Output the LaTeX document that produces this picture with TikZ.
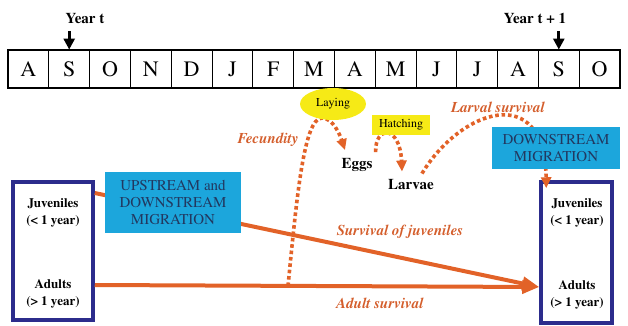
\documentclass[tikz,border=0pt]{standalone}
\usepackage[T1]{fontenc}
\usepackage{times}
\usetikzlibrary{arrows.meta, shapes.geometric, positioning}

\definecolor{lineorange}{RGB}{226,98,40}
\definecolor{labelorange}{RGB}{212,94,44}
\definecolor{migblue}{RGB}{28,166,220}
\definecolor{migtext}{RGB}{34,56,96}
\definecolor{stageblue}{RGB}{44,44,140}
\definecolor{layyellow}{RGB}{246,234,22}

\newcommand{\fs}[1]{\rmfamily\fontsize{#1}{1.15\dimexpr #1pt\relax}\selectfont}

\begin{document}
\begin{tikzpicture}[x=1pt,y=-1pt,
    month/.style={draw,line width=0.9pt,minimum width=40.8pt,minimum height=38pt,font=\fs{22}},
    yearlbl/.style={font=\fs{15}\bfseries},
    yeararrow/.style={line width=3pt,-{Triangle[length=11pt,width=11pt]}},
    stage/.style={align=center,font=\fs{13}\bfseries,inner sep=0pt},
    stagebox/.style={draw=stageblue,line width=3.5pt},
    surv/.style={draw=lineorange,line width=4pt,-{Triangle[length=17pt,width=13pt]}},
    survlbl/.style={text=labelorange,font=\fs{15}\bfseries\itshape},
    dots/.style={draw=lineorange,line width=3.6pt,dash pattern=on 3.6pt off 2.8pt,
                 -{Triangle[length=11pt,width=10pt,fill=lineorange]}},
    migbox/.style={fill=migblue,text=migtext,align=center,font=\fs{15},inner sep=0pt},
    lifestage/.style={font=\fs{15}\bfseries,inner sep=0pt},
    event/.style={fill=layyellow,font=\fs{12},inner sep=0pt}]
    \useasboundingbox (0,0) rectangle (628,326);

    % calendar row
    \foreach \m [count=\i] in {A,S,O,N,D,J,F,M,A,M,J,J,A,S,O}
        \node[month] (m\i) at ({8+40.8*\i-20.4},69) {\m};
    \draw[line width=2pt] (m1.north west) rectangle (m15.south east);

    \node[yearlbl] (yt) at (85,18) {Year t};
    \node[yearlbl] (yt1) at (535,18) {Year t + 1};
    \coordinate (ytarr) at (m2.north |- 0,31);
    \coordinate (yt1arr) at (m14.north |- 0,31);
    \draw[yeararrow] (ytarr) -- (m2.north);
    \draw[yeararrow] (yt1arr) -- (m14.north);

    % stage boxes
    \node[stagebox,minimum width=80pt,minimum height=138pt] (boxL) at (53,251) {};
    \node[stagebox,minimum width=71pt,minimum height=141pt] (boxR) at (576.5,252.5) {};
    \node[stage] (juvL) at (53,213) {Juveniles\\[2pt](< 1 year)};
    \node[stage] (adL) at (53,294) {Adults\\[2pt](> 1 year)};
    \node[stage] (juvR) at (577,213) {Juveniles\\[2pt](< 1 year)};
    \node[stage] (adR) at (577,295) {Adults\\[2pt](> 1 year)};

    % eggs and larvae
    \node[lifestage] (eggs) at (357,165) {Eggs};
    \node[lifestage] (larvae) at (411,184) {Larvae};

    % survival
    \draw[surv] ([yshift=20pt]boxL.east |- juvL) -- ([yshift=8pt]boxR.west |- adR);
    \draw[surv] ([yshift=9pt]boxL.east |- adL) -- ([yshift=8pt]boxR.west |- adR);
    \node[survlbl] (sjuv) at (400,232) {Survival of juveniles};
    \node[survlbl] (sad) at (380,303) {Adult survival};

    % reproduction
    \coordinate (fecstart) at (288,286);
    \draw[dots] (fecstart) .. controls (297,195) and (304,118) .. (322,118)
        .. controls (333,118) and (340,135) .. ([xshift=-12pt,yshift=8pt]eggs.north);
    \node[survlbl] (fec) at (268,140) {Fecundity};
    \draw[dots] ([xshift=3pt,yshift=6pt]eggs.north east) .. controls (375,125) and (400,125)
        .. ([xshift=-9pt,yshift=7pt]larvae.north);
    \draw[dots] ([xshift=-12pt,yshift=5pt]larvae.north east) .. controls (460,110) and (545,80)
        .. ([shift={(7pt,-8pt)}]boxR.north west);
    \node[survlbl] (lsurv) at (498,107) {Larval survival};

    % events and migrations
    \node[event,ellipse,minimum width=66pt,minimum height=32pt] (lay) at (333,104) {Laying};
    \node[event,minimum width=58pt,minimum height=20pt] (hatch) at (401,125) {Hatching};
    \node[migbox,minimum width=136pt,minimum height=61pt] (upmig) at (173,202.5)
        {UPSTREAM and\\DOWNSTREAM\\MIGRATION};
    \node[migbox,minimum width=128pt,minimum height=42pt] (downmig) at (556,148)
        {DOWNSTREAM\\MIGRATION};
\end{tikzpicture}
\end{document}
